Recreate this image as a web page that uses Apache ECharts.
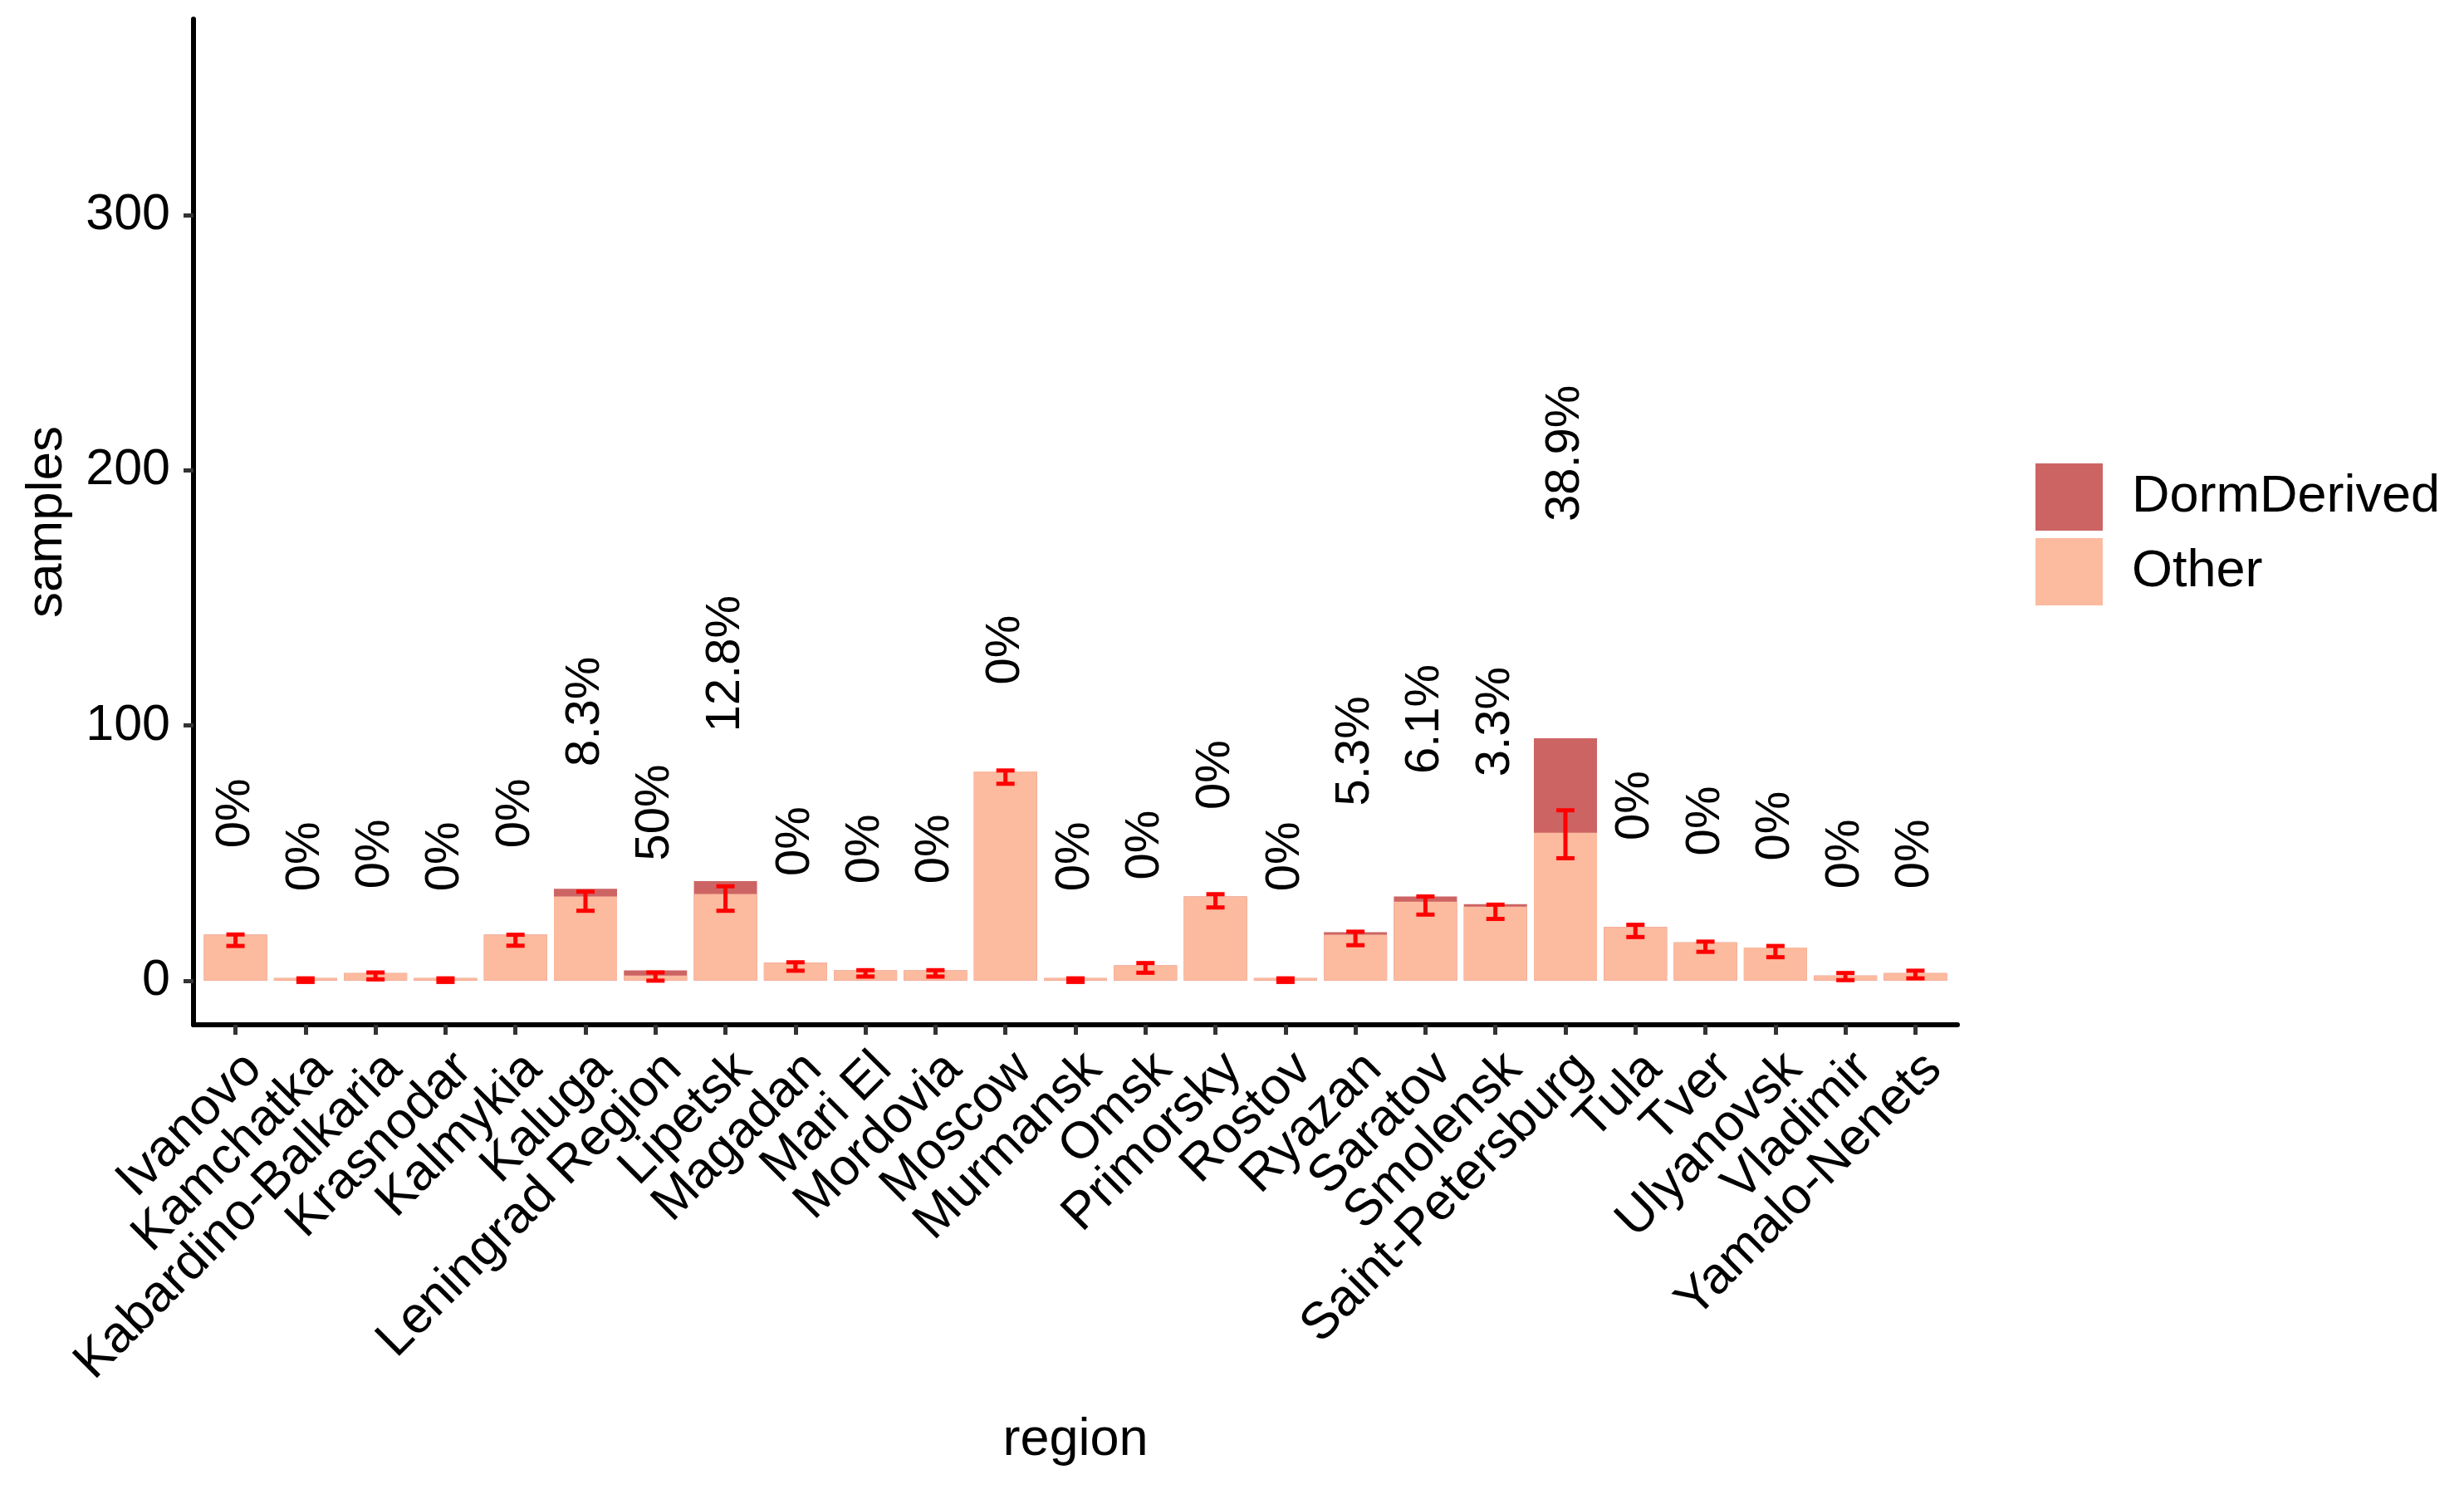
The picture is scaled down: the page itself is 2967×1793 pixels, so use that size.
<!DOCTYPE html>
<html>
<head>
<meta charset="utf-8">
<script src="https://cdn.jsdelivr.net/npm/echarts@6/dist/echarts.min.js"></script>
<style>
  html, body { margin: 0; padding: 0; background: #fff; }
  #main { width: 2967px; height: 1793px; }
</style>
</head>
<body>
<div id="main"></div>
<script>
'use strict';
var FONT = '"Liberation Sans", Arial, sans-serif';

// regions on the x axis
var regions = ['Ivanovo', 'Kamchatka', 'Kabardino-Balkaria', 'Krasnodar', 'Kalmykia',
  'Kaluga', 'Leningrad Region', 'Lipetsk', 'Magadan', 'Mari El', 'Mordovia', 'Moscow',
  'Murmansk', 'Omsk', 'Primorsky', 'Rostov', 'Ryazan', 'Saratov', 'Smolensk',
  'Saint-Petersburg', 'Tula', 'Tver', 'Ulyanovsk', 'Vladimir', 'Yamalo-Nenets'];
// sample counts
var other = [18, 1, 3, 1, 18, 33, 2, 34, 7, 4, 4, 82, 1, 6, 33, 1, 18, 31, 29, 58, 21, 15, 13, 2, 3];
var dorm  = [0, 0, 0, 0, 0, 3, 2, 5, 0, 0, 0, 0, 0, 0, 0, 0, 1, 2, 1, 37, 0, 0, 0, 0, 0];
// error bars (low / high)
var errLow  = [13.6, -0.5, 0.5, -0.5, 13.7, 27.4, 0, 27.4, 3.9, 1.6, 1.6, 77.2, -0.5, 3.1, 28.7, -0.5, 13.9, 25.9, 24.2, 48, 17.1, 11.3, 9.2, 0.2, 0.9];
var errHigh = [18.1, 0.9, 3.2, 0.9, 18, 34.9, 3.2, 37, 7.2, 4.1, 4.1, 82.4, 0.9, 6.9, 33.9, 0.9, 19.2, 33, 29.8, 66.8, 21.9, 15.3, 13.6, 3, 3.9];
// percent labels and where their text starts
var pctText = ['0%', '0%', '0%', '0%', '0%', '8.3%', '50%', '12.8%', '0%', '0%', '0%', '0%',
  '0%', '0%', '0%', '0%', '5.3%', '6.1%', '3.3%', '38.9%', '0%', '0%', '0%', '0%', '0%'];
var pctAt = [52, 35, 36, 35, 52, 84, 47, 97.5, 41, 38, 38, 116, 35, 39.5, 67, 35, 68.5, 81, 80, 180, 55, 49, 47, 36, 36];
var yTicks = [0, 100, 200, 300];
var xTicks = regions.map(function (r, i) { return i; });

var chart = echarts.init(document.getElementById('main'));

function pairs(arr) {
  return arr.map(function (v, i) { return [i, v]; });
}
// DormDerived sits on top of Other: draw the full column behind the Other bar
var totals = other.map(function (v, i) { return v + dorm[i]; });

var option = {
  animation: false,
  backgroundColor: '#fff',
  textStyle: { fontFamily: FONT },
  grid: [
    { left: 233, top: 23, width: 2124, height: 1211, containLabel: false },
    // label-only grid: 25 category bands lined up with the ticks of the first grid
    { left: 241.4, top: 23, width: 2107.1, height: 1211, containLabel: false }
  ],
  legend: {
    orient: 'vertical',
    left: 2446,
    top: 553,
    itemWidth: 81,
    itemHeight: 81,
    itemGap: 9,
    icon: 'rect',
    data: ['DormDerived', 'Other'],
    textStyle: { fontSize: 63, color: '#000', fontFamily: FONT, padding: [0, 0, 0, 30] }
  },
  xAxis: [
    {
      type: 'value',
      gridIndex: 0,
      min: -0.6,
      max: 24.6,
      name: 'region',
      nameLocation: 'middle',
      nameGap: 469,
      nameTextStyle: { fontSize: 63, color: '#000', fontFamily: FONT },
      splitLine: { show: false },
      axisLine: { onZero: false, lineStyle: { color: '#000', width: 6 } },
      axisTick: { length: 12, customValues: xTicks, lineStyle: { color: '#333', width: 5 } },
      axisLabel: { show: false }
    },
    {
      type: 'category',
      gridIndex: 1,
      data: regions,
      axisLine: { show: false },
      axisTick: { show: false },
      splitLine: { show: false },
      axisLabel: {
        rotate: 45, fontSize: 62, color: '#000', margin: 22, fontFamily: FONT,
        align: 'right', verticalAlign: 'top', interval: 0
      }
    }
  ],
  yAxis: [
    {
      type: 'value',
      gridIndex: 0,
      min: -17.3,
      max: 377,
      name: 'samples',
      nameLocation: 'middle',
      nameGap: 145,
      nameRotate: 90,
      nameTextStyle: { fontSize: 62, color: '#000', fontFamily: FONT },
      splitLine: { show: false },
      axisLine: { show: true, onZero: false, lineStyle: { color: '#000', width: 6 } },
      axisTick: { show: true, length: 12, customValues: yTicks, lineStyle: { color: '#333', width: 5 } },
      axisLabel: { fontSize: 61, color: '#000', margin: 28, customValues: yTicks, fontFamily: FONT }
    },
    {
      type: 'value',
      gridIndex: 1,
      show: false
    }
  ],
  series: [
    {
      name: 'DormDerived',
      type: 'bar',
      barWidth: 76,
      barGap: '-100%',
      z: 2,
      itemStyle: { color: '#CD6464' },
      data: pairs(totals)
    },
    {
      name: 'Other',
      type: 'bar',
      barWidth: 76,
      barGap: '-100%',
      z: 3,
      itemStyle: { color: '#FCBA9F' },
      data: pairs(other)
    },
    {
      name: 'err',
      type: 'custom',
      silent: true,
      z: 5,
      data: regions.map(function (r, i) { return [i, errLow[i], errHigh[i]]; }),
      renderItem: function (params, api) {
        var lo = api.coord([api.value(0), api.value(1)]);
        var hi = api.coord([api.value(0), api.value(2)]);
        var cap = 11;
        var st = { stroke: '#FF0000', lineWidth: 5 };
        return {
          type: 'group',
          children: [
            { type: 'line', shape: { x1: lo[0], y1: lo[1], x2: hi[0], y2: hi[1] }, style: st },
            { type: 'line', shape: { x1: lo[0] - cap, y1: lo[1], x2: lo[0] + cap, y2: lo[1] }, style: st },
            { type: 'line', shape: { x1: hi[0] - cap, y1: hi[1], x2: hi[0] + cap, y2: hi[1] }, style: st }
          ]
        };
      }
    },
    {
      name: 'pct',
      type: 'custom',
      silent: true,
      z: 6,
      data: pairs(pctAt),
      renderItem: function (params, api) {
        var p = api.coord([api.value(0), api.value(1)]);
        return {
          type: 'text',
          x: p[0],
          y: p[1],
          rotation: Math.PI / 2,
          style: {
            text: pctText[params.dataIndex],
            fontSize: 58,
            fontFamily: FONT,
            fill: '#000',
            align: 'left',
            verticalAlign: 'middle'
          }
        };
      }
    }
  ]
};

chart.setOption(option);
</script>
</body>
</html>
